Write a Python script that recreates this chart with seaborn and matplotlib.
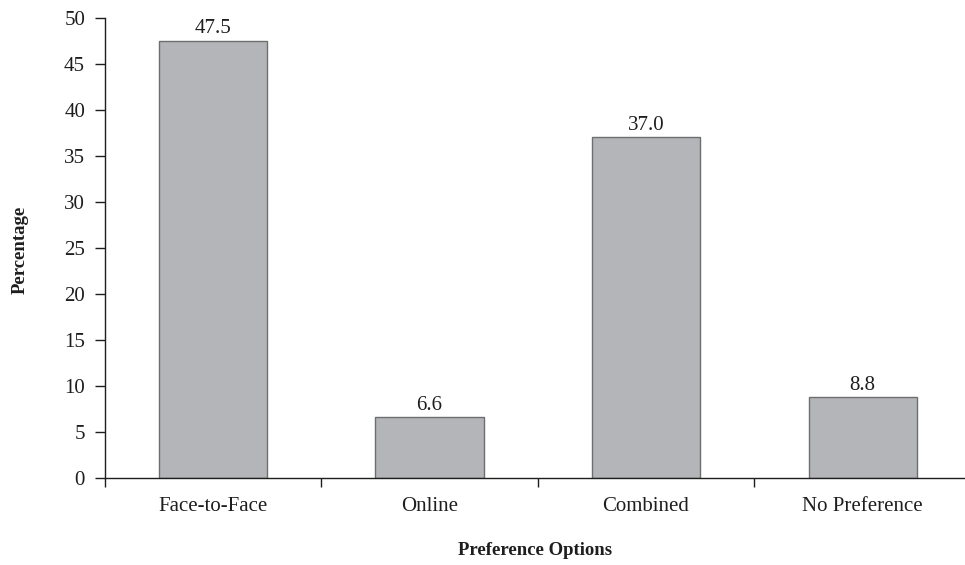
import matplotlib
matplotlib.use("Agg")
import matplotlib.pyplot as plt
import pandas as pd
import seaborn as sns
from matplotlib.ticker import FixedLocator, MultipleLocator

# Survey results: preferred mode of delivery
categories = ["Face-to-Face", "Online", "Combined", "No Preference"]
percentages = [47.5, 6.6, 37.0, 8.8]

df = pd.DataFrame({"option": categories, "pct": percentages})

sns.set_style("ticks")
plt.rcParams["font.family"] = ["Liberation Serif", "DejaVu Serif"]

INK = "#1e1e1e"

fig = plt.figure(figsize=(9.65, 5.65), dpi=100)
ax = fig.add_axes([0.1083, 0.1545, 0.8979, 0.8145])

sns.barplot(data=df, x="option", y="pct", ax=ax, color="#b4b5b9",
            saturation=1, width=0.5, edgecolor="#6e6e6e", linewidth=1.0)

ax.set_xlim(-0.5, len(categories) - 0.5)
ax.set_ylim(0, 50)
ax.yaxis.set_major_locator(MultipleLocator(5))

# value labels above bars
for i, v in enumerate(percentages):
    ax.annotate(f"{v:.1f}", (i, v), xytext=(0, 1.5), textcoords="offset points",
                ha="center", va="bottom", fontsize=15, color=INK)

# category boundaries get the visible ticks; labels sit at bar centres
ax.xaxis.set_minor_locator(FixedLocator([i - 0.5 for i in range(len(categories) + 1)]))
ax.tick_params(axis="x", which="major", length=0, pad=14, labelsize=15, colors=INK)
ax.tick_params(axis="x", which="minor", length=6.5, width=1.0, color=INK, direction="out")
ax.tick_params(axis="y", which="major", length=7, width=1.0, pad=7, labelsize=15,
               colors=INK, direction="out")

for side in ("top", "right"):
    ax.spines[side].set_visible(False)
for side in ("left", "bottom"):
    ax.spines[side].set_color(INK)
    ax.spines[side].set_linewidth(1.0)

ax.set_xlabel("Preference Options", fontsize=13.5, fontweight="bold", color=INK)
ax.set_ylabel("Percentage", fontsize=13.5, fontweight="bold", color=INK)
ax.xaxis.set_label_coords((535 - 104.5) / 866.5, -(550 - 477.7) / 460.2)
ax.yaxis.set_label_coords(-(104.5 - 20) / 866.5, (477.7 - 250) / 460.2)
ax.xaxis.label.set_va("center")
ax.yaxis.label.set_va("center")

fig.savefig("out.png", dpi=100, facecolor="white")
